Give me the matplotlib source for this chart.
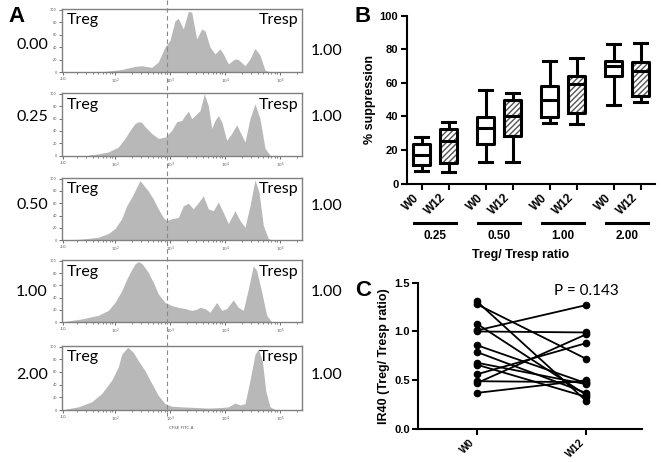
import numpy as np
import matplotlib
matplotlib.use('Agg')
import matplotlib.pyplot as plt
from matplotlib.lines import Line2D
from matplotlib.patches import Rectangle

# ---- panel A: CFSE histograms (x in channel units 0-240, height in % of max) ----
ratios = ['0.00', '0.25', '0.50', '1.00', '2.00']
resp_labels = ['1.00', '1.00', '1.00', '1.00', '1.00']

h0_x = [26.6, 43.3, 60, 73.3, 80, 90, 96.6, 103.3, 108.3, 113.3, 116.6, 121.6, 126.6, 130,
        135, 140, 143.3, 148.3, 153.3, 158.3, 161.6, 166.6, 173.3, 176.6, 183.3, 188.3,
        193.3, 198.3, 203.3, 208.3]
h0_y = [0, 1, 4, 9, 10, 7.5, 16, 40, 51, 82, 86, 69, 97, 96, 53, 69, 66, 40, 29, 37, 29,
        13, 21, 20, 10, 21, 38, 27, 3, 0]

h1_x = [26.6, 36.6, 46.6, 56.6, 63.3, 68.3, 73.3, 76.6, 80, 83.3, 90, 96.6, 103.3, 110,
        115, 120, 123.3, 126.6, 130, 133.3, 138.3, 142.6, 146.6, 150, 153.3, 156.6, 160,
        165, 170, 175, 180, 183.3, 188.3, 193.3, 198.3, 203.3, 208.3]
h1_y = [1, 3, 6, 14, 28, 41, 52, 55, 54, 47, 36, 28, 30, 41, 55, 57, 65, 72, 60, 65, 73,
        100, 81, 44, 57, 65, 55, 25, 36, 50, 33, 22, 60, 84, 60, 12, 1]

h2_x = [13.3, 26.6, 36.6, 46.6, 53.3, 60, 65, 70, 75, 78.3, 81.6, 86.6, 91.6, 96.6, 101.6,
        105, 110, 116.6, 121.6, 126.6, 131.6, 136.6, 141.6, 146.6, 151.6, 156.6, 161.6,
        166.6, 173.3, 178.3, 183.3, 188.3, 193.3, 197.3, 201.6, 206.6, 211.6]
h2_y = [1, 3, 5, 11, 19, 35, 56, 70, 86, 97, 90, 80, 67, 51, 37, 32, 35, 37, 56, 60, 51,
        61, 72, 51, 48, 62, 45, 27, 48, 32, 21, 56, 98, 78, 24, 3, 0]

h3_x = [3.3, 20, 36.6, 46.6, 53.3, 60, 65, 70, 73.3, 76.6, 80.6, 86.6, 91.6, 96.6, 103.3,
        110, 116.6, 123.3, 130, 135, 138.3, 143.3, 148.3, 155, 160, 165, 171.6, 176.6,
        181.6, 186.6, 191.6, 195, 200, 205, 210]
h3_y = [1, 5, 11, 19, 32, 51, 70, 86, 95, 99, 95, 81, 65, 46, 32, 27, 24, 22, 19, 21, 24,
        22, 16, 32, 19, 22, 36, 24, 19, 54, 92, 84, 49, 11, 0]

h4_x = [3.3, 16.6, 30, 40, 50, 56.6, 60, 63.3, 66, 71.6, 76.6, 83.3, 90, 96.6, 103.3, 110,
        120, 133.3, 146.6, 160, 166.6, 173.3, 178.3, 183.3, 188.3, 193.3, 196.6, 200.6,
        204, 208.3, 213.3]
h4_y = [1, 5, 13, 26, 47, 68, 88, 94, 99, 91, 78, 62, 42, 23, 10, 6, 5, 4, 3, 4, 5, 11, 8,
        10, 47, 88, 96, 78, 31, 5, 1]

hist_x = [h0_x, h1_x, h2_x, h3_x, h4_x]
hist_y = [h0_y, h1_y, h2_y, h3_y, h4_y]

# ---- panel B: % suppression box plots ----
groups = ['0.25', '0.50', '1.00', '2.00']
w0_lo = [7.4, 12.9, 36.1, 47.0]
w0_q1 = [10.8, 23.5, 39.6, 63.9]
w0_med = [17.1, 32.9, 50.0, 69.9]
w0_q3 = [23.3, 39.8, 58.2, 73.1]
w0_hi = [27.7, 55.8, 73.1, 83.1]
w12_lo = [6.6, 13.1, 35.3, 48.8]
w12_q1 = [12.2, 28.3, 41.8, 52.4]
w12_med = [25.1, 40.2, 59.2, 67.3]
w12_q3 = [32.5, 49.8, 64.3, 72.3]
w12_hi = [36.9, 54.0, 74.7, 83.9]

# ---- panel C: IR40 paired values ----
ir40_w0 = [1.31, 1.28, 1.08, 1.01, 1.00, 0.86, 0.79, 0.68, 0.66, 0.56, 0.49, 0.47, 0.37]
ir40_w12 = [0.29, 0.72, 0.35, 1.27, 0.99, 0.47, 0.37, 0.46, 0.33, 0.88, 0.48, 0.97, 0.50]

W, H = 661, 462
fig = plt.figure(figsize=(W / 100, H / 100), dpi=100)
plt.rcParams['hatch.linewidth'] = 1.0


def box(l, t, r, b):
    return [l / W, 1 - b / H, (r - l) / W, (b - t) / H]


cal = ['Lato', 'DejaVu Sans']
ari = ['Liberation Sans', 'DejaVu Sans']

# panel A
panel_y = [(9, 72), (93.3, 155.7), (178, 240.3), (260.3, 322), (346, 410)]
left_lab_y = [45, 117, 205, 291.7, 375]
right_lab_y = [51, 117, 206, 291.7, 375]
dec = [53.3, 108.3, 163.3, 218.3]
minor = []
for d in [-1.7] + dec:
    for k in range(2, 10):
        p = d + 55 * np.log10(k)
        if 0 < p < 240:
            minor.append(p)

for i in range(5):
    t, b = panel_y[i]
    ax = fig.add_axes(box(61.7, t, 301.7, b))
    ax.fill_between(hist_x[i], hist_y[i], color='#b8b8b8', lw=0)
    ax.set_xlim(0, 240)
    ax.set_ylim(0, 101)
    for s in ax.spines.values():
        s.set_color('#808080')
        s.set_linewidth(1)
    ax.set_xticks([1.5] + dec)
    ax.set_xticklabels(['-10', '10$^2$', '10$^3$', '10$^4$', '10$^5$'], fontsize=3,
                       color='#555555')
    ax.set_xticks(minor, minor=True)
    ax.set_yticks(np.arange(0, 101, 20))
    ax.set_yticklabels([str(v) for v in range(0, 101, 20)], fontsize=2.5, color='#555555')
    ax.tick_params(axis='both', which='major', length=2.5, width=0.6, color='#555555', pad=1)
    ax.tick_params(axis='both', which='minor', length=1.5, width=0.5, color='#555555')
    ax.text(0.02, 0.93, 'Treg', transform=ax.transAxes, va='top', ha='left',
            fontsize=11.5, family=cal)
    ax.text(0.985, 0.93, 'Tresp', transform=ax.transAxes, va='top', ha='right',
            fontsize=11.5, family=cal)
    fig.text(32 / W, 1 - left_lab_y[i] / H, ratios[i], ha='center', va='center',
             fontsize=11.5, family=cal)
    fig.text(327 / W, 1 - right_lab_y[i] / H, resp_labels[i], ha='center', va='center',
             fontsize=11.5, family=cal)
    if i == 4:
        ax.set_xlabel('CFSE FITC-A', fontsize=3, color='#555555', labelpad=1)

fig.add_artist(Line2D([166.7 / W, 166.7 / W], [1.0, 1 - 416 / H], color='#888888',
                      lw=0.8, ls=(0, (4, 3))))
fig.text(8 / W, 1 - 17 / H, 'A', fontsize=16, weight='bold', family=ari, va='center')

# panel B
axb = fig.add_axes(box(406.7, 16, 655, 183.5))
step = 64 / 27
pos0 = [g * step for g in range(4)]
pos12 = [g * step + 1 for g in range(4)]
bw = 0.65
stats = []
for j in range(4):
    stats.append(dict(whislo=w0_lo[j], q1=w0_q1[j], med=w0_med[j], q3=w0_q3[j],
                      whishi=w0_hi[j], fliers=[]))
for j in range(4):
    stats.append(dict(whislo=w12_lo[j], q1=w12_q1[j], med=w12_med[j], q3=w12_q3[j],
                      whishi=w12_hi[j], fliers=[]))
    axb.add_patch(Rectangle((pos12[j] - bw / 2, w12_q1[j]), bw, w12_q3[j] - w12_q1[j],
                            facecolor='white', edgecolor='#555555', hatch='//////', lw=0))
lp = dict(color='black', linewidth=2.2)
axb.bxp(stats, positions=pos0 + pos12, widths=bw, capwidths=0.5, showfliers=False,
        boxprops=lp, whiskerprops=lp, capprops=lp, medianprops=lp, manage_ticks=False)
axb.set_xlim(-15 / 27, 8.64)
axb.set_ylim(0, 100)
axb.spines['top'].set_visible(False)
axb.spines['right'].set_visible(False)
for s in ['left', 'bottom']:
    axb.spines[s].set_linewidth(1.5)
axb.set_yticks([0, 20, 40, 60, 80, 100])
axb.set_yticklabels(['0', '20', '40', '60', '80', '100'], fontsize=8, weight='bold',
                    family=ari)
ticks_b = []
labs_b = []
for j in range(4):
    ticks_b += [pos0[j], pos12[j]]
    labs_b += ['W0', 'W12']
axb.set_xticks(ticks_b)
axb.set_xticklabels(labs_b, rotation=45, ha='right', fontsize=8.5, weight='bold', family=ari)
axb.tick_params(length=4, width=1.5, pad=2)
axb.set_ylabel('% suppression', fontsize=9, weight='bold', family=ari, labelpad=3)
tr = axb.get_xaxis_transform()
for j in range(4):
    c = (pos0[j] + pos12[j]) / 2
    axb.plot([c - 0.78, c + 0.78], [-0.2376, -0.2376], color='black', lw=2.2,
             transform=tr, clip_on=False)
    axb.text(c, -0.275, groups[j], transform=tr, ha='center', va='top', fontsize=8.5,
             weight='bold', family=ari)
axb.text(0.46, -0.39, 'Treg/ Tresp ratio', transform=axb.transAxes, ha='center', va='top',
         fontsize=9, weight='bold', family=ari)
fig.text(355 / W, 1 - 17 / H, 'B', fontsize=16, weight='bold', family=ari, va='center')

# panel C
axc = fig.add_axes(box(418, 282.7, 642, 429))
for a, b in zip(ir40_w0, ir40_w12):
    axc.plot([0, 1], [a, b], color='black', lw=1.3, marker='o', ms=4.5)
axc.set_xlim(-0.537, 1.512)
axc.set_ylim(0, 1.5)
axc.spines['top'].set_visible(False)
axc.spines['right'].set_visible(False)
for s in ['left', 'bottom']:
    axc.spines[s].set_linewidth(1.5)
axc.set_xticks([0, 1])
axc.set_xticklabels(['W0', 'W12'], rotation=45, ha='right', fontsize=7.5, weight='bold',
                    family=ari)
axc.set_yticks([0, 0.5, 1.0, 1.5])
axc.set_yticklabels(['0.0', '0.5', '1.0', '1.5'], fontsize=8, weight='bold', family=ari)
axc.tick_params(length=4, width=1.5, pad=2)
axc.set_ylabel('IR40 (Treg/ Tresp ratio)', fontsize=9, weight='bold', family=ari,
               labelpad=3)
axc.text(1.0, 1.42, 'P = 0.143', ha='center', va='center', fontsize=11, family=cal)
fig.text(355 / W, 1 - 290 / H, 'C', fontsize=16, weight='bold', family=ari, va='center')

fig.savefig('out.png', dpi=100, facecolor='white')
